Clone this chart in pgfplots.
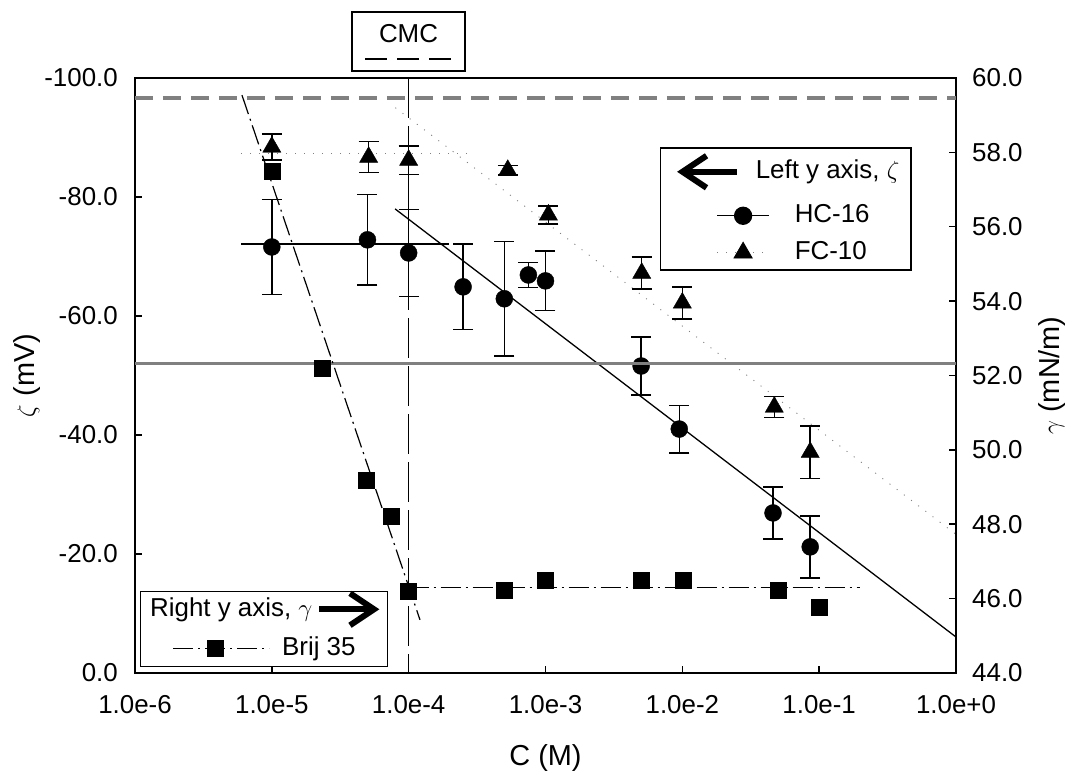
\documentclass[border=0pt]{standalone}
\usepackage{fontspec}
\setmainfont{Liberation Sans}
\usepackage{pgfplots}
\pgfplotsset{compat=1.18}
\usetikzlibrary{arrows.meta}

\pgfplotstableread{
x        y      e
1e-5    -71.6   8.0
5e-5    -72.8   7.6
1e-4    -70.6   7.3
2.5e-4  -64.9   7.2
5e-4    -62.9   9.6
7.5e-4  -66.9   2.1
1e-3    -65.9   5.0
5e-3    -51.6   4.9
9.5e-3  -41.0   4.0
0.046   -26.9   4.4
0.086   -21.2   5.2
}\hcdata

\pgfplotstableread{
x        y      e
1e-5    -88.4   2.2
5.1e-5  -86.7   2.6
1e-4    -86.2   2.4
5.3e-4  -84.5   0.8
1.05e-3 -77.0   1.5
5.05e-3 -67.2   2.7
1e-2    -62.2   2.7
0.047   -44.7   1.8
0.086   -37.1   4.4
}\fcdata

\pgfplotstableread{
x        y
1e-5     57.5
2.35e-5  52.2
4.9e-5   49.19
7.4e-5   48.22
1e-4     46.2
5e-4     46.23
1e-3     46.5
5e-3     46.5
1.02e-2  46.5
0.05     46.23
0.1      45.77
}\brijdata

\begin{document}
\fontsize{26}{31}\selectfont
\begin{tikzpicture}
\useasboundingbox (0bp,0bp) rectangle (1069bp,775bp);

% ---------- left axis (zeta) ----------
\begin{axis}[
  xmode=log,
  at={(135bp,102bp)}, anchor=south west,
  scale only axis, width=821bp, height=595bp,
  xmin=1e-6, xmax=1,
  xtick={1e-6,1e-5,1e-4,1e-3,1e-2,1e-1,1},
  xticklabels={1.0e-6,1.0e-5,1.0e-4,1.0e-3,1.0e-2,1.0e-1,1.0e+0},
  xminorticks=false, yminorticks=false,
  tick align=inside,
  major tick length=7bp,
  every tick/.style={line width=1.5bp, black},
  axis line style={line width=2.5bp},
  xticklabel style={inner sep=0pt, yshift=-22bp},
  ymin=-100, ymax=0, y dir=reverse,
  ytick={-100,-80,-60,-40,-20,0},
  yticklabels={-100.0,-80.0,-60.0,-40.0,-20.0,0.0},
  yticklabel style={inner sep=0pt, xshift=-17bp},
  tick pos=left,
  xlabel={C (M)}, ylabel={$\zeta$ (mV)},
  label style={font=\fontsize{29}{34}\selectfont},
  x label style={at={(axis description cs:0.5,-0.155)}, anchor=base},
  y label style={at={(axis description cs:-0.1315,0.5)}, anchor=center},
  legend style={at={(axis description cs:0.9464,0.884)}, anchor=north east,
    draw=black, line width=1.5bp, inner xsep=12bp, inner ysep=5bp,
    nodes={inner sep=0pt, text height=19bp, text depth=5bp},
    column sep=25bp, row sep=13bp},
  legend cell align=left,
]
\addlegendimage{legend image code/.code={
  \draw[line width=6bp, {Straight Barb[length=24bp,width=32bp,line width=6bp]}-] (0bp,0bp) -- (60bp,0bp);}}
\addlegendentry{\hspace*{-39bp}Left y axis, $\zeta$}
\addlegendimage{black, line width=1.3bp, mark=*, mark size=8.5bp, mark options={solid},
  legend image code/.code={\path (0bp,0bp); \draw[mark repeat=2,mark phase=2] plot coordinates {(40bp,0bp) (66bp,0bp) (92bp,0bp)};}}
\addlegendentry{HC-16}
\addlegendimage{gray, line width=0.8bp, dash pattern=on 1bp off 8bp, mark=triangle*, mark size=10.5bp, mark options={solid,black},
  legend image code/.code={\path (0bp,0bp); \draw[mark repeat=2,mark phase=2] plot coordinates {(40bp,0bp) (66bp,0bp) (92bp,0bp)};}}
\addlegendentry{FC-10}

% CMC vertical line
\addplot[forget plot, black, line width=1.5bp, dash pattern=on 40bp off 8bp] coordinates {(1e-4,-100) (1e-4,0)};
% HC-16 fit lines
\addplot[forget plot, black, line width=1.3bp] coordinates {(5.96e-6,-72.1) (1.97e-4,-72.1)};
\addplot[forget plot, black, line width=1.3bp] coordinates {(7.96e-5,-78.0) (1,-6.05)};
% FC-10 fit lines
\addplot[forget plot, gray, line width=0.9bp, dash pattern=on 1bp off 8bp] coordinates {(5.96e-6,-87.4) (2.8e-4,-87.4)};
\addplot[forget plot, gray, line width=0.9bp, dash pattern=on 1bp off 8bp] coordinates {(8e-5,-95.0) (1,-23.3)};
% data
\addplot[forget plot, only marks, black, mark=*, mark size=8.5bp,
  error bars/.cd, y dir=both, y explicit,
  error bar style={line width=1.5bp, black},
  error mark options={rotate=90, line width=1.5bp, mark size=10bp, black}]
  table[x=x, y=y, y error=e] {\hcdata};
\addplot[forget plot, only marks, black, mark=triangle*, mark size=10.5bp,
  error bars/.cd, y dir=both, y explicit,
  error bar style={line width=1.5bp, black},
  error mark options={rotate=90, line width=1.5bp, mark size=10bp, black}]
  table[x=x, y=y, y error=e] {\fcdata};
\end{axis}

% ---------- right axis (gamma) ----------
\begin{axis}[
  xmode=log,
  at={(135bp,102bp)}, anchor=south west,
  scale only axis, width=821bp, height=595bp,
  xmin=1e-6, xmax=1,
  xminorticks=false, yminorticks=false,
  tick align=inside,
  major tick length=7bp,
  every tick/.style={line width=1.5bp, black},
  axis line style={line width=2.5bp},
  axis x line=none, axis y line*=right,
  ymin=44, ymax=60,
  ytick={44,46,48,50,52,54,56,58,60},
  yticklabels={44.0,46.0,48.0,50.0,52.0,54.0,56.0,58.0,60.0},
  yticklabel style={inner sep=0pt, xshift=16bp, anchor=west},
  ylabel={$\gamma$ (mN/m)},
  label style={font=\fontsize{29}{34}\selectfont},
  y label style={at={(axis description cs:1.117,0.5)}, anchor=center, rotate=0},
  legend style={at={(axis description cs:0.006,0.010)}, anchor=south west,
    draw=black, line width=1.5bp, inner xsep=32bp, inner ysep=6bp,
    nodes={inner sep=0pt, text height=19bp, text depth=5bp},
    column sep=12bp, row sep=15bp},
  legend cell align=left,
]
\addlegendimage{legend image code/.code={
  \path (0bp,0bp) (96bp,0bp);
  \draw[overlay, line width=6bp, -{Straight Barb[length=24bp,width=32bp,line width=6bp]}] (146bp,0bp) -- (206bp,0bp);}}
\addlegendentry{\hspace*{-132bp}Right y axis, $\gamma$}
\addlegendimage{black, line width=1.2bp, dash pattern=on 20bp off 5bp on 2bp off 5bp, mark=square*, mark size=8bp, mark options={solid},
  legend image code/.code={\draw[mark repeat=2,mark phase=2] plot coordinates {(0bp,0bp) (42bp,0bp) (96bp,0bp)};}}
\addlegendentry{Brij 35}

\addplot[forget plot, gray, line width=4bp, dash pattern=on 18bp off 10bp] coordinates {(1e-6,59.46) (1,59.46)};
\addplot[forget plot, gray, line width=3bp] coordinates {(1e-6,52.33) (1,52.33)};
\addplot[forget plot, black, line width=1.2bp, dash pattern=on 20bp off 5bp on 2bp off 5bp] coordinates {(6.05e-6,59.54) (1.21e-4,45.43)};
\addplot[forget plot, black, line width=1.2bp, dash pattern=on 20bp off 5bp on 2bp off 5bp] coordinates {(1.0e-4,46.29) (0.2,46.29)};
\addplot[forget plot, only marks, black, mark=square*, mark size=8bp] table[x=x, y=y] {\brijdata};
\end{axis}

% ---------- CMC key ----------
\draw[line width=1.5bp] (352bp,704bp) rectangle (465bp,763bp);
\node[inner sep=0pt] at (408.5bp,741bp) {CMC};
\draw[line width=1.5bp, dash pattern=on 22bp off 10bp] (365bp,716bp) -- (452bp,716bp);
\end{tikzpicture}
\end{document}
